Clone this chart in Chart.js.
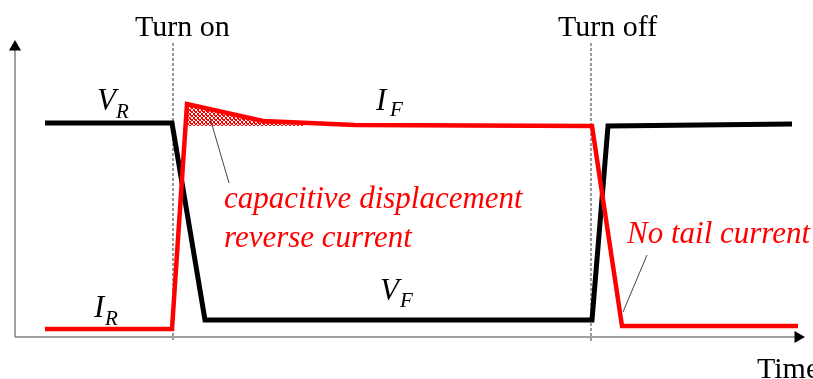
<!DOCTYPE html>
<html>
<head>
<meta charset="utf-8">
<script src="https://cdn.jsdelivr.net/npm/chart.js@4/dist/chart.umd.min.js"></script>
<style>
  html, body { margin: 0; padding: 0; background: #fff; }
  #wrap { width: 813px; height: 379px; }
</style>
</head>
<body>
<div id="wrap"><canvas id="diodeChart" width="813" height="379"></canvas></div>
<script>
  // time axis (arbitrary units), level axis (arbitrary units), origin at the axes corner
  const voltTime = [30, 157, 190, 577, 593, 777];
  const voltLevel = [214, 214, 17, 17, 211, 213];

  const currTime = [30, 157, 172, 248, 340, 577, 607, 783];
  const currLevel = [8, 8, 233, 216, 212, 211, 11, 11];

  // overshoot (capacitive displacement current) above the forward level
  const peakTime = [172, 248, 290];
  const peakLevel = [233, 216, 213];
  const forwardLevel = 211;

  const turnOnTime = 158;
  const turnOffTime = 576;

  const labelTurnOn = 'Turn on';
  const labelTurnOff = 'Turn off';
  const labelTime = 'Time';
  const labelCap = ['capacitive displacement', 'reverse current'];
  const labelTail = 'No tail current';

  const toPts = (xs, ys) => xs.map((v, i) => ({ x: v, y: ys[i] }));

  // red cross-hatch with small white rings
  function hatchPattern() {
    const c = document.createElement('canvas');
    c.width = 4; c.height = 4;
    const g = c.getContext('2d');
    g.fillStyle = '#ff0000';
    g.fillRect(0, 0, 4, 4);
    g.fillStyle = '#ffffff';
    [[1, 0], [2, 0], [0, 1], [3, 1], [0, 2], [3, 2], [1, 3]].forEach(p => g.fillRect(p[0], p[1], 1, 1));
    return g.createPattern(c, 'repeat');
  }

  const textPlugin = {
    id: 'textLabels',
    afterDatasetsDraw(chart) {
      const { ctx, scales: { x, y } } = chart;
      const put = (t, tx, ty, font, color) => {
        ctx.font = font;
        ctx.fillStyle = color;
        ctx.textAlign = 'left';
        ctx.textBaseline = 'alphabetic';
        ctx.fillText(t, x.getPixelForValue(tx), y.getPixelForValue(ty));
      };
      const serif = '"Liberation Serif", "DejaVu Serif", serif';
      const big = '30px ' + serif;
      const ital = 'italic 31px ' + serif;
      const sub = 'italic 21px ' + serif;

      ctx.save();
      put(labelTurnOn, 120, 301, big, '#000');
      put(labelTurnOff, 543, 301, big, '#000');
      put(labelTime, 742, -41, big, '#000');

      put('V', 82, 227, ital, '#000');
      put('R', 101, 219, sub, '#000');
      put('I', 361, 227, ital, '#000');
      put('F', 375, 221, sub, '#000');
      put('I', 79, 20, ital, '#000');
      put('R', 90, 12, sub, '#000');
      put('V', 365, 37, ital, '#000');
      put('F', 385, 30, sub, '#000');

      put(labelCap[0], 209, 129, ital, '#ff0000');
      put(labelCap[1], 209, 90, ital, '#ff0000');
      put(labelTail, 612, 94, ital, '#ff0000');
      ctx.restore();
    }
  };

  const ctx = document.getElementById('diodeChart').getContext('2d');
  const diodeChart = new Chart(ctx, {
    type: 'scatter',
    data: {
      datasets: [
        {
          // hatched overshoot
          data: toPts(peakTime, peakLevel),
          showLine: true,
          borderWidth: 0,
          pointRadius: 0,
          backgroundColor: hatchPattern(),
          fill: { value: forwardLevel },
          order: 5
        },
        {
          // voltage
          data: toPts(voltTime, voltLevel),
          showLine: true,
          borderColor: '#000',
          borderWidth: 5,
          pointRadius: 0,
          fill: false,
          order: 3
        },
        {
          // current
          data: toPts(currTime, currLevel),
          showLine: true,
          borderColor: '#ff0000',
          borderWidth: 4.5,
          pointRadius: 0,
          fill: false,
          order: 2
        },
        {
          // turn on marker
          data: [{ x: turnOnTime, y: 294 }, { x: turnOnTime, y: -3 }],
          showLine: true,
          borderColor: '#333',
          borderWidth: 1,
          borderDash: [3, 2],
          pointRadius: 0,
          order: 6
        },
        {
          // turn off marker
          data: [{ x: turnOffTime, y: 294 }, { x: turnOffTime, y: -5 }],
          showLine: true,
          borderColor: '#333',
          borderWidth: 1,
          borderDash: [3, 2],
          pointRadius: 0,
          order: 6
        },
        {
          // y axis with arrow
          data: [{ x: 0, y: 0 }, { x: 0, y: 290 }],
          showLine: true,
          borderColor: '#808080',
          borderWidth: 1.5,
          pointRadius: [0, 7],
          pointStyle: 'triangle',
          rotation: 0,
          pointBackgroundColor: '#000',
          pointBorderWidth: 0,
          order: 7
        },
        {
          // x axis with arrow
          data: [{ x: 0, y: 0 }, { x: 783, y: 0 }],
          showLine: true,
          borderColor: '#808080',
          borderWidth: 1.5,
          pointRadius: [0, 7],
          pointStyle: 'triangle',
          rotation: 90,
          pointBackgroundColor: '#000',
          pointBorderWidth: 0,
          order: 7
        },
        {
          // leader to capacitive label
          data: [{ x: 195, y: 219 }, { x: 214, y: 154 }],
          showLine: true,
          borderColor: '#444',
          borderWidth: 1,
          pointRadius: 0,
          order: 1
        },
        {
          // leader to tail label
          data: [{ x: 632, y: 82 }, { x: 608, y: 25 }],
          showLine: true,
          borderColor: '#444',
          borderWidth: 1,
          pointRadius: 0,
          order: 1
        }
      ]
    },
    options: {
      responsive: false,
      animation: false,
      layout: { padding: 0, autoPadding: false },
      plugins: {
        legend: { display: false },
        tooltip: { enabled: false }
      },
      scales: {
        x: { type: 'linear', min: -15, max: 798, display: false },
        y: { type: 'linear', min: -42, max: 337, display: false }
      }
    },
    plugins: [textPlugin]
  });
</script>
</body>
</html>
